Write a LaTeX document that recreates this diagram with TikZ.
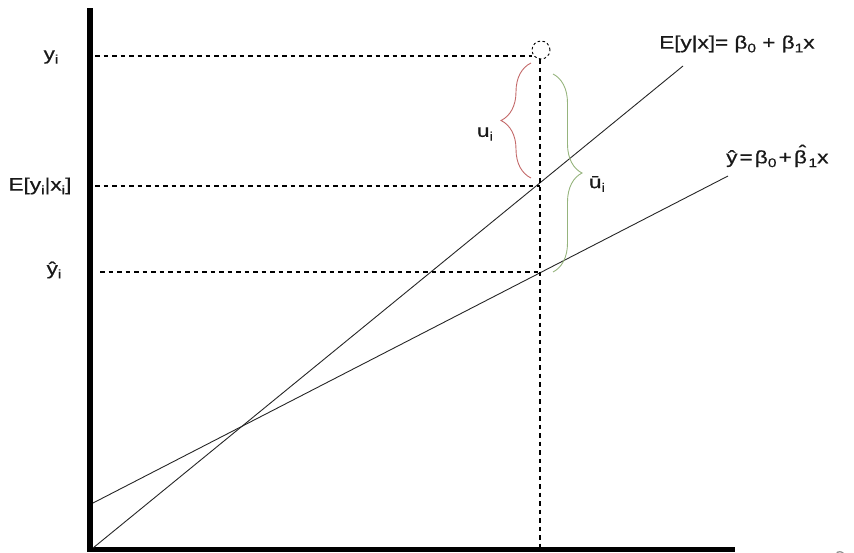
\documentclass[tikz,border=0pt]{standalone}
\usepackage{fontspec}
\setmainfont[FakeStretch=1.25, FakeBold=0.6]{Liberation Sans}
\usetikzlibrary{decorations.pathreplacing}
\newcommand{\sbx}[1]{\raisebox{-0.4ex}{\fontsize{12.5}{12.5}\selectfont #1}}
\newcommand{\tsp}{\hspace{0.12em}}
\definecolor{txt}{RGB}{25,25,25}
\definecolor{bred}{RGB}{195,105,105}
\definecolor{bgreen}{RGB}{150,180,125}
\begin{document}
\begin{tikzpicture}[x=1pt,y=-1pt,
  lbl/.style={font=\fontsize{18}{20}\selectfont, text=txt, inner sep=0pt},
  guide/.style={dashed, dash pattern=on 4.5pt off 4pt, line width=1.1pt},
  axisline/.style={line width=6pt},
  regline/.style={line width=0.9pt, black!85},
  bracestyle/.style={decorate, line width=0.9pt},
]
\useasboundingbox (0,0) rectangle (854,552);
% axes
\coordinate (ytop) at (90,8);
\coordinate (origin) at (90,549.5);
\coordinate (xend) at (735,549.5);
\draw[axisline] (ytop) -- (90,552);
\draw[line width=5pt] (87,549.5) -- (xend);
% regression lines
\coordinate (l1a) at (93,548);
\coordinate (l1b) at (683,66);
\coordinate (l2a) at (93,503);
\coordinate (l2b) at (728,176);
\draw[regline] (l1a) -- (l1b);
\draw[regline] (l2a) -- (l2b);
% point circle
\node[circle, draw, line width=0.9pt, dash pattern=on 2.5pt off 2.5pt, minimum size=18pt, inner sep=0pt] (pt) at (541,50) {};
% guides
\coordinate (gy) at (95,56);
\coordinate (ge) at (95,186);
\coordinate (gh) at (100,272);
\coordinate (vbot) at (540,547);
\draw[guide] (gy) -- (pt.west |- gy);
\draw[guide] (ge) -- (540,186);
\draw[guide] (gh) -- (540,272);
\draw[guide] (540,59) -- (vbot);
% labels
\node[lbl] (ly) at (51,57) {y\sbx{i}};
\node[lbl] (le) at (40,186) {E[y\sbx{i}|x\sbx{i}]};
\node[lbl] (lh) at (54,270) {ŷ\sbx{i}};
\node[lbl, anchor=west] (leq1) at (659,44) {E[y|x]= β\sbx{0} + β\sbx{1}x};
\node[lbl, anchor=west] (leq2) at (726,156) {ŷ\tsp=\tsp β\sbx{0}\tsp+\tsp β\kern-0.45em\raisebox{0.3em}{ˆ}\kern0.12em\sbx{1}x};
% braces
\coordinate (rb1) at (531,178);
\coordinate (rb2) at (531,63);
\draw[bracestyle, bred, decoration={brace, amplitude=30pt}] (rb1) -- (rb2);
\node[lbl] (lu) at (485,134) {u\sbx{i}};
\coordinate (gb1) at (553,74);
\coordinate (gb2) at (553,272);
\draw[bracestyle, bgreen, decoration={brace, amplitude=29pt}] (gb1) -- (gb2);
\node[lbl] (lu2) at (597,184) {ū\sbx{i}};
% page number fragment
\node[font=\fontsize{14}{14}\selectfont, text=black!45, inner sep=0pt] (pg) at (840,556) {9};
\end{tikzpicture}
\end{document}
